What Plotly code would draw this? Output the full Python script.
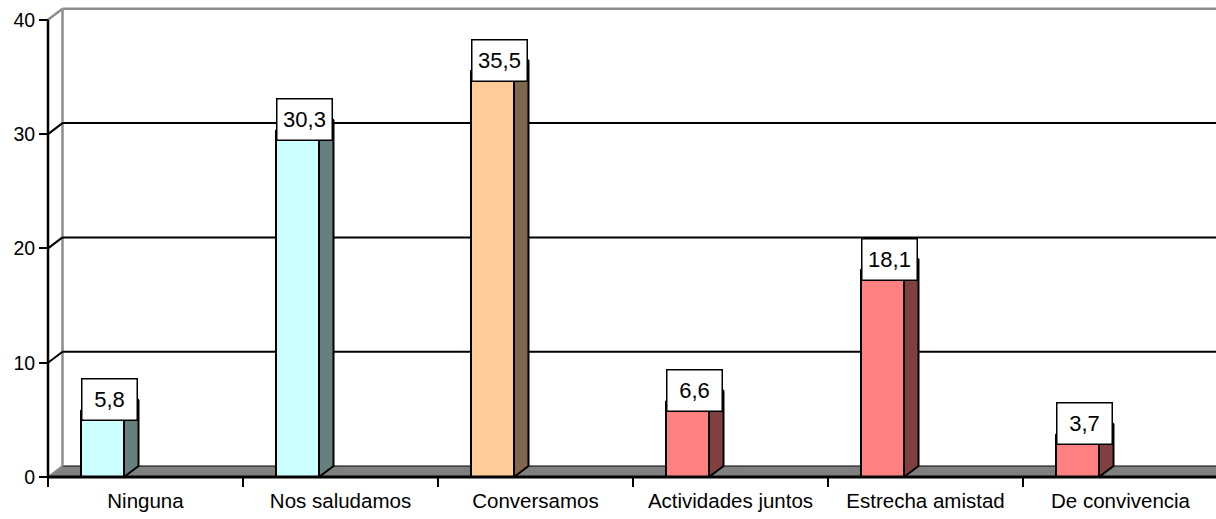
import plotly.graph_objects as go

categories = ["Ninguna", "Nos saludamos", "Conversamos", "Actividades juntos",
              "Estrecha amistad", "De convivencia"]
values = [5.8, 30.3, 35.5, 6.6, 18.1, 3.7]
value_labels = ["5,8", "30,3", "35,5", "6,6", "18,1", "3,7"]
front_colors = ["#CCFFFF", "#CCFFFF", "#FFCC99", "#FF8080", "#FF8080", "#FF8080"]
side_colors = ["#668080", "#668080", "#80664D", "#804040", "#804040", "#804040"]
y_ticks = [0, 10, 20, 30, 40]

# geometry (pixels -> data units)
W, H = 1216, 519
PX_CAT = 195.0
PX_UNIT = 11.43
ML, MB, MT = 30, 30, 0
plot_w = W - ML
plot_h = H - MB - MT
x0_px = 48 - ML          # px of category edge -0.5 from plot left
y0_px = 477 - MT         # px of value 0 from plot top
xl = -0.5 - x0_px / PX_CAT
xr = xl + plot_w / PX_CAT
yt = y0_px / PX_UNIT
yb = -(plot_h - y0_px) / PX_UNIT

DX = 14.5 / PX_CAT
DY = 11.0 / PX_UNIT
BAR_W = 43.0 / PX_CAT
BAR_OFF = -43.0 / PX_CAT
XMAX = xr + 1
LEFT = -0.5
FONT = "Liberation Sans, Arial, sans-serif"

fig = go.Figure()

# front faces
bx = [i + BAR_OFF for i in range(len(values))]
fig.add_trace(go.Bar(x=bx, y=values, width=BAR_W,
                     marker=dict(color=front_colors, line=dict(color="black", width=2)),
                     hoverinfo="skip", showlegend=False))

# side and top faces
for i, v in enumerate(values):
    a = bx[i] - BAR_W / 2
    b = bx[i] + BAR_W / 2
    fig.add_trace(go.Scatter(x=[b, b + DX, b + DX, b, b], y=[0, DY, v + DY, v, 0],
                             fill="toself", fillcolor=side_colors[i], mode="lines",
                             line=dict(color="black", width=2), hoverinfo="skip",
                             showlegend=False))
    fig.add_trace(go.Scatter(x=[a, a + DX, b + DX, b, a], y=[v, v + DY, v + DY, v, v],
                             fill="toself", fillcolor=front_colors[i], mode="lines",
                             line=dict(color="black", width=2), hoverinfo="skip",
                             showlegend=False))

shapes = []
# floor
shapes.append(dict(type="path", xref="x", yref="y", layer="below",
                   path=f"M {LEFT},0 L {LEFT+DX},{DY} L {XMAX},{DY} L {XMAX},0 Z",
                   fillcolor="#808080", line=dict(color="black", width=1)))
# back wall edges
shapes.append(dict(type="line", xref="x", yref="y", layer="below",
                   x0=LEFT + DX, y0=DY, x1=LEFT + DX, y1=40 + DY,
                   line=dict(color="#8c8c8c", width=2.5)))
shapes.append(dict(type="line", xref="x", yref="y", layer="below",
                   x0=LEFT + DX, y0=40 + DY, x1=XMAX, y1=40 + DY,
                   line=dict(color="#8c8c8c", width=2.5)))
shapes.append(dict(type="line", xref="x", yref="y", layer="below",
                   x0=LEFT, y0=40, x1=LEFT + DX, y1=40 + DY,
                   line=dict(color="#8c8c8c", width=2.5)))
shapes.append(dict(type="line", xref="x", yref="y", layer="below",
                   x0=LEFT, y0=0, x1=LEFT + DX, y1=DY,
                   line=dict(color="#8c8c8c", width=2)))
# gridlines
for g in y_ticks[1:-1]:
    shapes.append(dict(type="line", xref="x", yref="y", layer="below",
                       x0=LEFT, y0=g, x1=LEFT + DX, y1=g + DY,
                       line=dict(color="black", width=2)))
    shapes.append(dict(type="line", xref="x", yref="y", layer="below",
                       x0=LEFT + DX, y0=g + DY, x1=XMAX, y1=g + DY,
                       line=dict(color="black", width=2)))
# front axes
shapes.append(dict(type="line", xref="x", yref="y", layer="above",
                   x0=LEFT, y0=0, x1=LEFT, y1=40, line=dict(color="black", width=2.5)))
shapes.append(dict(type="line", xref="x", yref="y", layer="above",
                   x0=LEFT, y0=0, x1=XMAX, y1=0, line=dict(color="black", width=3)))

annotations = []
for i, v in enumerate(values):
    annotations.append(dict(x=bx[i] + DX / 2, y=v + DY, xref="x", yref="y",
                            text=value_labels[i], showarrow=False,
                            xanchor="center", yanchor="middle",
                            font=dict(family=FONT, size=22, color="black"),
                            bgcolor="white", bordercolor="black", borderwidth=1.5,
                            borderpad=2, width=50, height=36))

fig.update_layout(
    width=W, height=H,
    margin=dict(l=ML, r=0, t=MT, b=MB, autoexpand=False),
    paper_bgcolor="white", plot_bgcolor="rgba(0,0,0,0)",
    shapes=shapes, annotations=annotations,
    showlegend=False, bargap=0,
    font=dict(family=FONT, size=19.5, color="black"),
    xaxis=dict(range=[xl, xr], anchor="free", position=(plot_h - y0_px) / plot_h,
               automargin=False, tickfont=dict(size=20.5),
               tickmode="array", tickvals=list(range(len(categories))),
               ticktext=categories, ticks="", showgrid=False, zeroline=False,
               showline=False, fixedrange=True, ticklabelstandoff=9,
               minor=dict(tickmode="array", tickvals=[k - 0.5 for k in range(len(categories) + 1)],
                          ticks="outside", ticklen=9, tickwidth=2, tickcolor="black",
                          showgrid=False)),
    yaxis=dict(range=[yb, yt], anchor="free", position=x0_px / plot_w,
               automargin=False,
               tickmode="array", tickvals=y_ticks, ticks="outside", ticklen=9,
               tickwidth=2, tickcolor="black", showgrid=False, zeroline=False,
               showline=False, fixedrange=True),
)

fig.write_html("out.html", config={"displayModeBar": False},
               post_script="document.body.style.margin='0';document.body.style.overflow='hidden';")
